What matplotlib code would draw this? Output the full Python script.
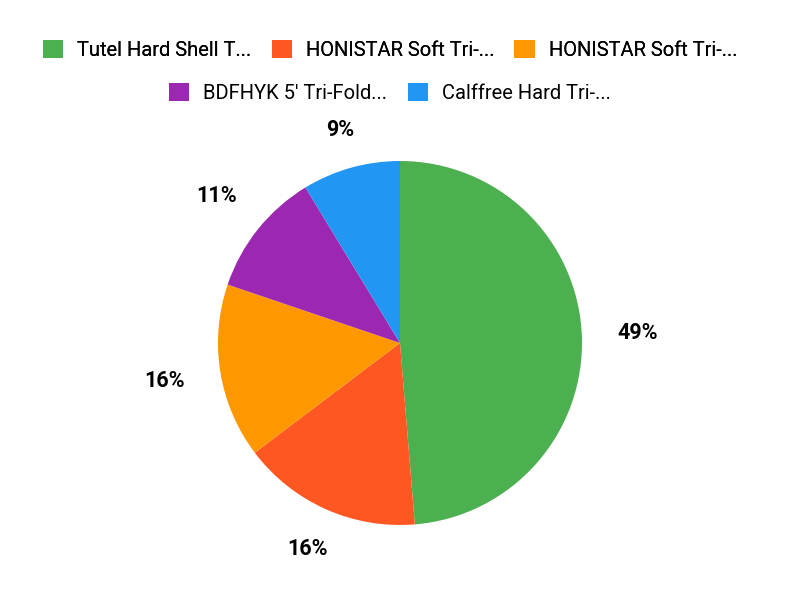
import numpy as np
import matplotlib.pyplot as plt
from matplotlib.patches import Patch

plt.rcParams['font.family'] = ['Roboto', 'DejaVu Sans']

# data
labels = ["Tutel Hard Shell T...", "HONISTAR Soft Tri-...", "HONISTAR Soft Tri-...",
          "BDFHYK 5' Tri-Fold...", "Calffree Hard Tri-..."]
shares = [48.7, 16.0, 15.5, 11.1, 8.7]
colors = ["#4CAF50", "#FF5722", "#FF9800", "#9C27B0", "#2196F3"]

R = 182  # pie radius in px
fig = plt.figure(figsize=(8, 6), dpi=100)
# pie centred at (400, 343) px
ax = fig.add_axes([(400 - R) / 800, (600 - 343 - R) / 600, 2 * R / 800, 2 * R / 600])
wedges, texts, autotexts = ax.pie(shares, colors=colors, startangle=90, counterclock=False,
                                  autopct='%1.0f%%', pctdistance=1.3,
                                  wedgeprops=dict(linewidth=0))
# place labels just outside the rim, further out sideways (text is wider than tall)
for w, t in zip(wedges, autotexts):
    th = np.deg2rad((w.theta1 + w.theta2) / 2)
    d = 1 + (22 + 34 * abs(np.cos(th)) + 8 * abs(np.sin(th))) / R
    t.set_position((d * np.cos(th), d * np.sin(th)))
    t.set_fontsize(15.5)
    t.set_fontweight('bold')
    t.set_color('#000000')
ax.set_xlim(-1, 1); ax.set_ylim(-1, 1)
ax.set_aspect('equal')
ax.axis('off')

# legend: two centred rows
handles = [Patch(facecolor=c, edgecolor='none') for c in colors]
leg_kw = dict(frameon=False, fontsize=14.5, handlelength=1.0, handleheight=1.0,
              handletextpad=0.7, columnspacing=1.0, loc='center')
leg1 = fig.legend(handles[:3], labels[:3], ncol=3, bbox_to_anchor=(0.4875, 1 - 50 / 600), **leg_kw)
fig.add_artist(leg1)
fig.legend(handles[3:], labels[3:], ncol=2, bbox_to_anchor=(0.4875, 1 - 93 / 600), **leg_kw)

fig.savefig("out.png", dpi=100)
